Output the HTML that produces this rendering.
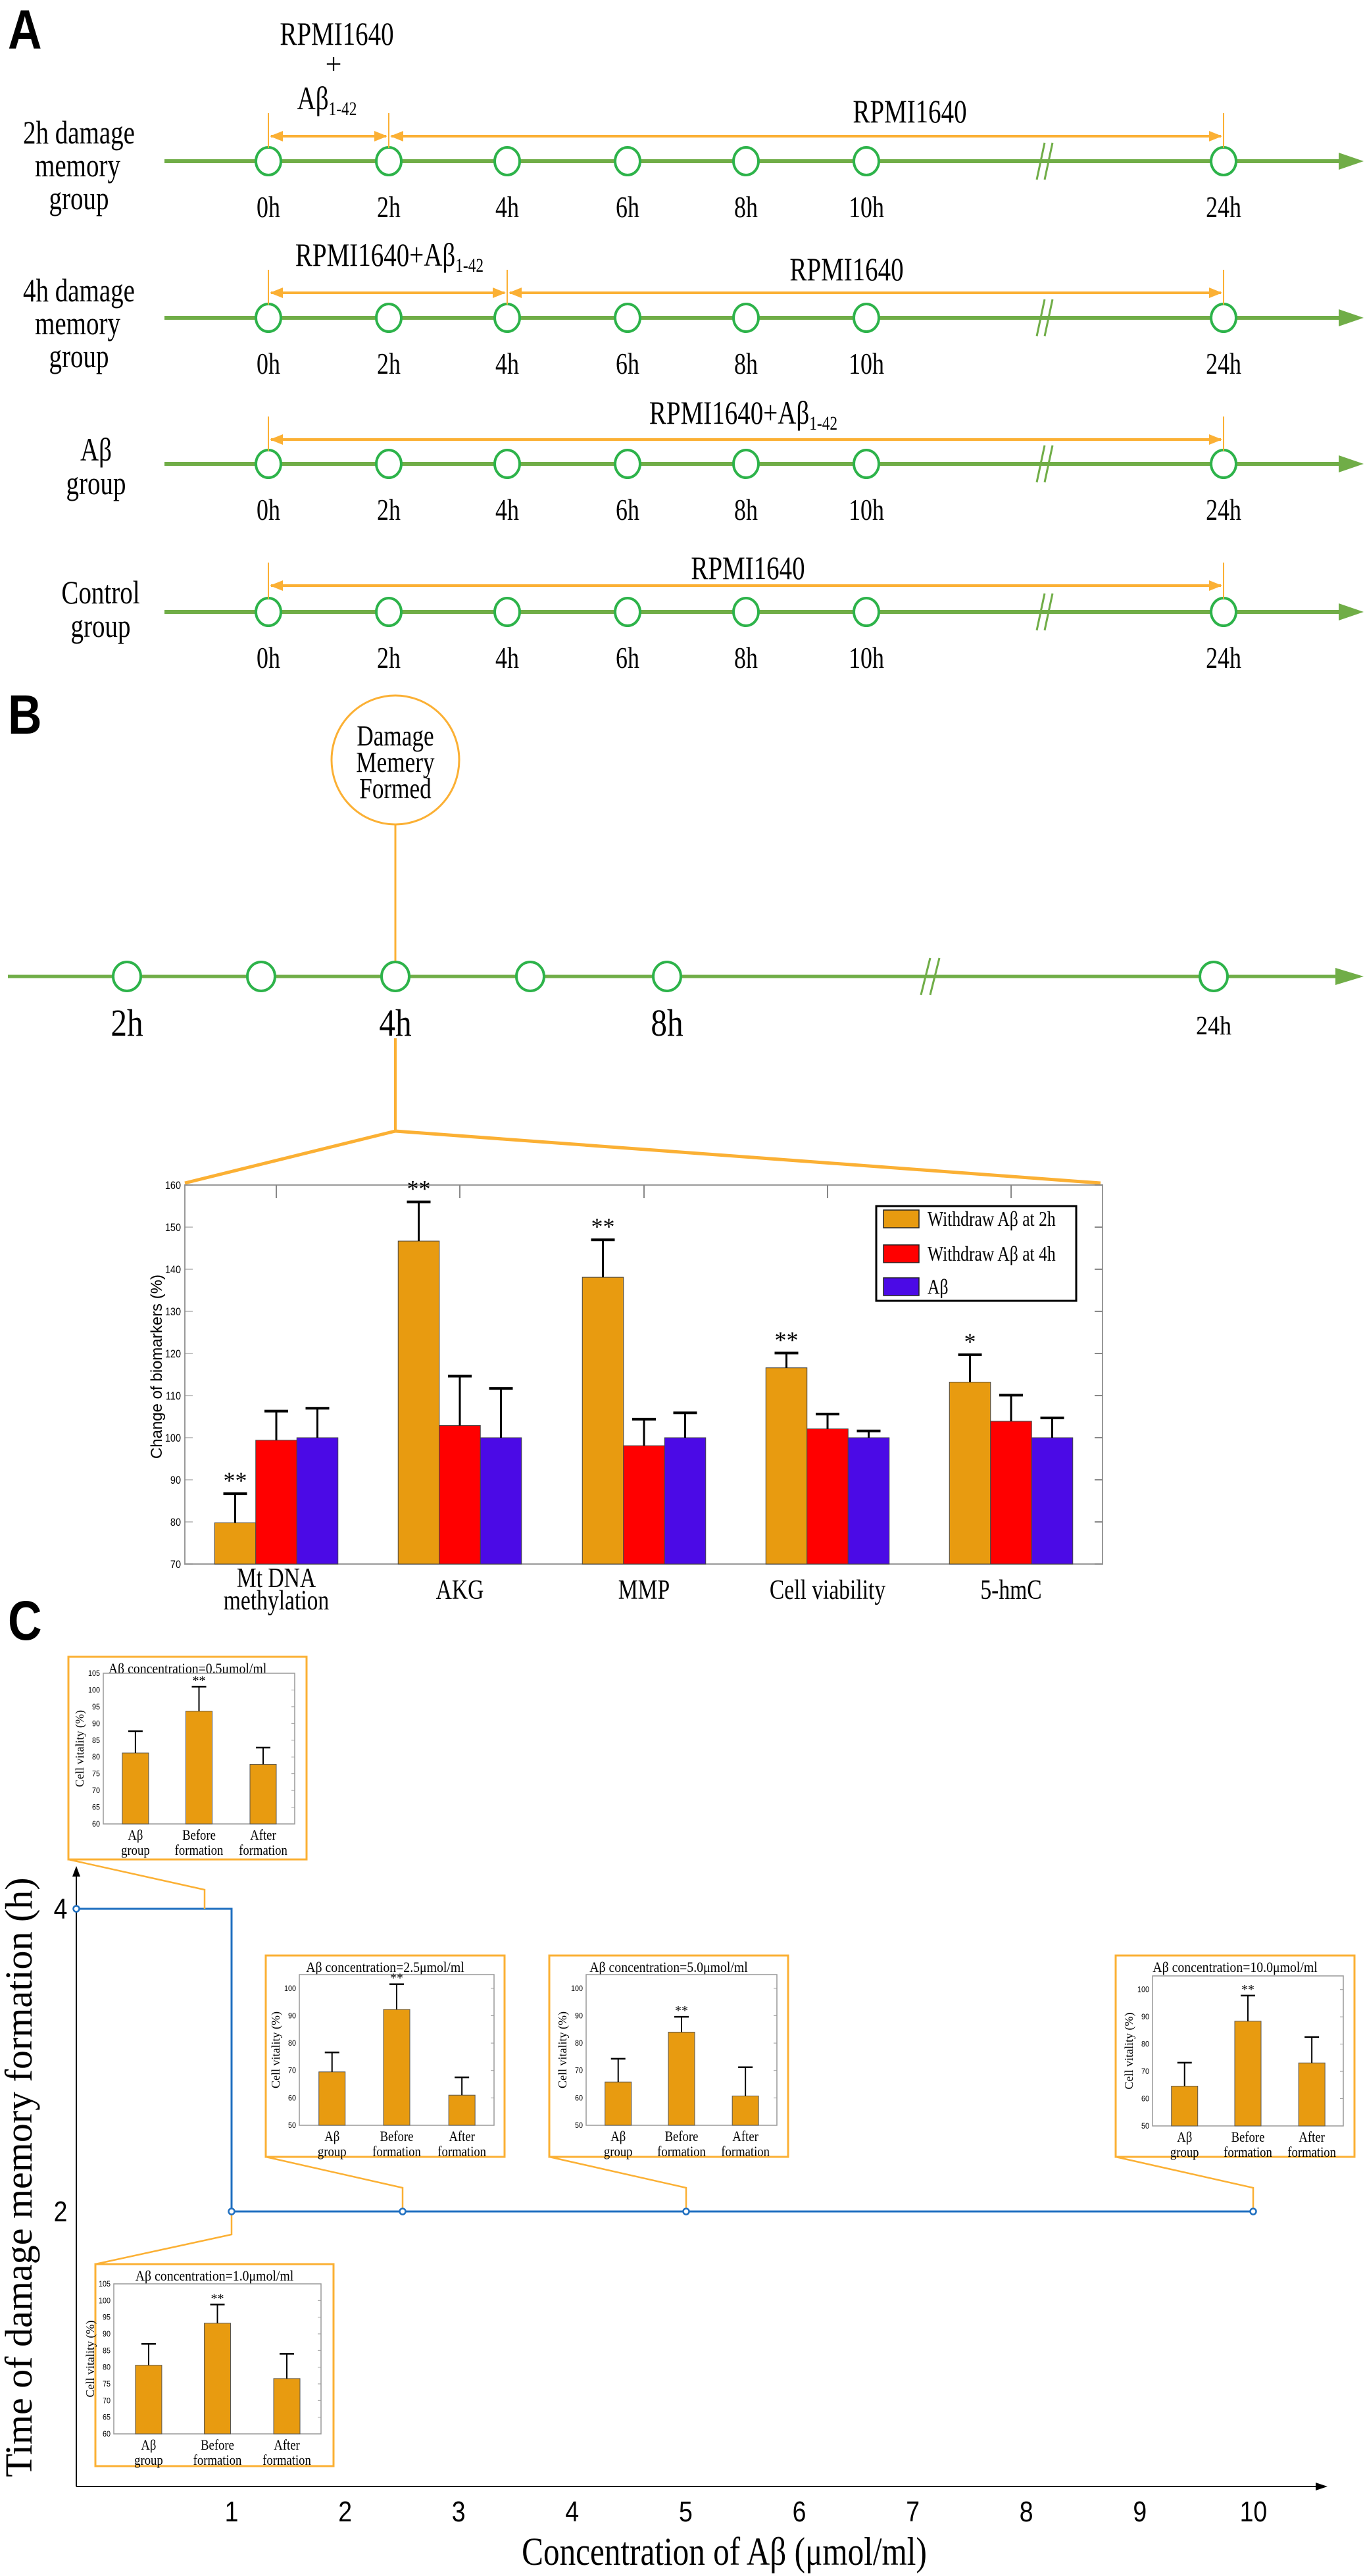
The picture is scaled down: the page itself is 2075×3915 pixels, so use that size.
<!DOCTYPE html>
<html><head><meta charset="utf-8"><style>
html,body{margin:0;padding:0;background:#fff;}
svg{display:block;}
</style></head><body>
<svg id="c" xmlns="http://www.w3.org/2000/svg" width="2075" height="3915" viewBox="0 0 2075 3915"></svg>
<script>
const S=[];
const SER="'Liberation Serif',serif", SAN="'Liberation Sans',sans-serif";
function T(x,y,txt,fs,anchor,fam,cx,extra){anchor=anchor||'middle';fam=fam||SER;cx=cx||1;extra=extra||'';
 S.push(`<text transform="translate(${x},${y}) scale(${cx},1)" font-size="${fs}" text-anchor="${anchor}" font-family="${fam}" fill="#000" ${extra}>${txt}</text>`);}
function L(x1,y1,x2,y2,c,w){S.push(`<line x1="${x1}" y1="${y1}" x2="${x2}" y2="${y2}" stroke="${c}" stroke-width="${w}"/>`);}
function R(x,y,w,h,f,st,sw){S.push(`<rect x="${x}" y="${y}" width="${w}" height="${h}" fill="${f}" stroke="${st||'none'}" stroke-width="${sw||0}"/>`);}
function P(pts,f){S.push(`<polygon points="${pts}" fill="${f}"/>`);}
const GL="#70ad47", GC="#2db34a", OR="#fbb034";
const AB='Aβ<tspan font-size="0.6em" dy="0.3em">1-42</tspan>';

// Panel A
T(12,74,'A',84,'start',SAN,0.85,'font-weight="bold"');
const xs=[408,591,771,954,1134,1317,1860], lab=['0h','2h','4h','6h','8h','10h','24h'];
const rows=[{y:245,a:207,seg:[[408,591],[591,1860]]},{y:483,a:445,seg:[[408,771],[771,1860]]},{y:705,a:668,seg:[[408,1860]]},{y:930,a:890,seg:[[408,1860]]}];
rows.forEach(r=>{
 L(250,r.y,2040,r.y,GL,6); P(`2035,${r.y-13} 2073,${r.y} 2035,${r.y+13}`,GL);
 L(1576,r.y+28,1588,r.y-28,GL,3); L(1588,r.y+28,1600,r.y-28,GL,3);
 xs.forEach((x,i)=>{S.push(`<ellipse cx="${x}" cy="${r.y}" rx="19" ry="21" fill="#fff" stroke="${GC}" stroke-width="4"/>`);T(x,r.y+85,lab[i],46,'middle',SER,0.78);});
 const bounds=new Set();
 r.seg.forEach(s=>{bounds.add(s[0]);bounds.add(s[1]);
   L(s[0]+4,r.a,s[1]-4,r.a,OR,4);
   P(`${s[0]+2},${r.a} ${s[0]+22},${r.a-8} ${s[0]+22},${r.a+8}`,OR);
   P(`${s[1]-2},${r.a} ${s[1]-22},${r.a-8} ${s[1]-22},${r.a+8}`,OR);});
 bounds.forEach(b=>L(b,r.a-35,b,r.y-20,OR,2));
});
T(512,68,'RPMI1640',50,'middle',SER,0.78);
T(507,112,'+',44,'middle',SER,1);
T(497,166,AB,50,'middle',SER,0.78);
T(1383,186,'RPMI1640',50,'middle',SER,0.78);
T(592,404,'RPMI1640+'+AB,50,'middle',SER,0.78);
T(1287,426,'RPMI1640',50,'middle',SER,0.78);
T(1130,644,'RPMI1640+'+AB,50,'middle',SER,0.78);
T(1137,880,'RPMI1640',50,'middle',SER,0.78);
T(120,218,'2h damage',50,'middle',SER,0.78);T(118,268,'memory',50,'middle',SER,0.78);T(120,318,'group',50,'middle',SER,0.78);
T(120,458,'4h damage',50,'middle',SER,0.78);T(118,508,'memory',50,'middle',SER,0.78);T(120,558,'group',50,'middle',SER,0.78);
T(146,700,'Aβ',50,'middle',SER,0.78);T(146,751,'group',50,'middle',SER,0.78);
T(153,917,'Control',50,'middle',SER,0.78);T(153,968,'group',50,'middle',SER,0.78);

// Panel B
T(12,1115,'B',84,'start',SAN,0.85,'font-weight="bold"');
S.push(`<ellipse cx="601" cy="1155" rx="97" ry="98" fill="#fff" stroke="${OR}" stroke-width="3"/>`);
T(601,1133,'Damage',44,'middle',SER,0.8);T(601,1173,'Memery',44,'middle',SER,0.8);T(601,1213,'Formed',44,'middle',SER,0.8);
L(601,1253,601,1462,OR,3);
L(12,1484,2035,1484,GL,5);P(`2030,${1484-13} 2073,1484 2030,${1484+13}`,GL);
L(1400,1512,1414,1456,GL,3);L(1414,1512,1428,1456,GL,3);
[193,397,601,806,1014,1845].forEach(x=>S.push(`<ellipse cx="${x}" cy="1484" rx="21" ry="22" fill="#fff" stroke="${GC}" stroke-width="4"/>`));
T(193,1574,'2h',58,'middle',SER,0.85);T(601,1574,'4h',58,'middle',SER,0.85);T(1014,1574,'8h',58,'middle',SER,0.85);T(1845,1572,'24h',40,'middle',SER,0.9);
L(601,1578,601,1719,OR,4);
S.push(`<polyline points="281,1798 601,1719 1673,1798" fill="none" stroke="${OR}" stroke-width="5"/>`);
// chart
const yv=v=>2377-(v-70)*6.4;
R(281,1801,1395,576,'#fff','#999',2);
for(let v=70;v<=160;v+=10){const y=yv(v);T(275,y+6,v,17,'end',SAN,0.85);L(1664,y,1676,y,'#888',2);L(281,y,293,y,'#888',1);}
const cen=[420,699,979,1258,1537];
cen.forEach(c=>{L(c,1801,c,1821,'#888',2);});
const cols=['#e89b10','#ff0000','#4b0ae6'];
const data=[[[79.8,86.7,'**'],[99.4,106.3],[100,107]],[[146.7,156,'**'],[102.9,114.6],[100,111.7]],[[138.1,147,'**'],[98.1,104.4],[100,105.9]],[[116.6,120.1,'**'],[102.1,105.6],[100,101.6]],[[113.2,119.7,'*'],[103.9,110.1],[100,104.7]]];
data.forEach((g,gi)=>g.forEach((b,bi)=>{const x=cen[gi]+(bi-1)*62.5;const y=yv(b[0]);
 R(x-31.25,y,62.5,2377-y,cols[bi],'#444',1);
 L(x,y,x,yv(b[1]),'#000',3);L(x-18,yv(b[1]),x+18,yv(b[1]),'#000',4);
 if(b[2])T(x,yv(b[1])-8,b[2],36,'middle',SER,1);}));
R(1332,1833,304,144,'#fff','#000',3);
[['Withdraw Aβ at 2h',1852,cols[0]],['Withdraw Aβ at 4h',1905,cols[1]],['Aβ',1955,cols[2]]].forEach(e=>{R(1343,e[1]-13,54,27,e[2],'#222',1.5);T(1410,e[1]+11,e[0],32,'start',SER,0.8);});
S.push(`<text transform="translate(246,2077) rotate(-90)" font-size="24" text-anchor="middle" font-family="${SAN}">Change of biomarkers (%)</text>`);
T(420,2412,'Mt DNA',42,'middle',SER,0.8);T(420,2446,'methylation',42,'middle',SER,0.8);
T(699,2430,'AKG',42,'middle',SER,0.8);T(979,2430,'MMP',42,'middle',SER,0.8);T(1258,2430,'Cell viability',42,'middle',SER,0.8);T(1537,2430,'5-hmC',42,'middle',SER,0.8);

// Panel C
T(12,2492,'C',84,'start',SAN,0.85,'font-weight="bold"');
L(116,3779,116,2850,'#000',2);P('110,2852 116,2836 122,2852','#000');
L(116,3779,2005,3779,'#000',2);P('2000,3773 2018,3779 2000,3785','#000');
const xc=c=>352+(c-1)*172.6;
for(let c=1;c<=10;c++)T(xc(c),3832,c,44,'middle',SAN,0.85);
T(92,2916,'4',44,'middle',SAN,0.85);T(92,3376,'2',44,'middle',SAN,0.85);
S.push(`<text transform="translate(1101,3898) scale(0.82,1)" font-size="60" text-anchor="middle" font-family="${SER}">Concentration of Aβ (μmol/ml)</text>`);
S.push(`<text transform="translate(48,3309) rotate(-90)" font-size="58" text-anchor="middle" font-family="${SER}">Time of damage memory formation (h)</text>`);
function inset(b,a,ymin,ymax,step,vals,title,conn){
 S.push(`<polyline points="${conn}" fill="none" stroke="${OR}" stroke-width="2.5"/>`);
 R(b[0],b[1],b[2]-b[0],b[3]-b[1],'#fff',OR,3);
 T((b[0]+b[2])/2,b[1]+25,title,22,'middle',SER,0.9);
 R(a[0],a[1],a[2]-a[0],a[3]-a[1],'#fff','#999',1.5);
 const yy=v=>a[3]-(v-ymin)*(a[3]-a[1])/(ymax-ymin);
 for(let v=ymin;v<=ymax;v+=step){T(a[0]-5,yy(v)+4,v,12,'end',SAN,0.9);L(a[2]-5,yy(v),a[2],yy(v),'#999',1);}
 const w=a[2]-a[0];const fr=[0.168,0.5,0.835];
 vals.forEach((v,i)=>{const x=a[0]+w*fr[i];const y=yy(v[0]);R(x-20,y,40,a[3]-y,'#e89b10','#555',1);
  L(x,y,x,yy(v[1]),'#000',2);L(x-11,yy(v[1]),x+11,yy(v[1]),'#000',2.5);
  if(i==1)T(x,yy(v[1])-3,'**',20,'middle',SER,1);});
 const lx=[['Aβ','group'],['Before','formation'],['After','formation']];
 lx.forEach((l,i)=>{const x=a[0]+w*fr[i];T(x,a[3]+24,l[0],22,'middle',SER,0.85);T(x,a[3]+47,l[1],22,'middle',SER,0.85);});
 S.push(`<text transform="translate(${a[0]-30},${(a[1]+a[3])/2}) rotate(-90)" font-size="18" text-anchor="middle" font-family="${SER}">Cell vitality (%)</text>`);
}
S.push(`<polyline points="116,2901 352,2901 352,3361 ${xc(10)},3361" fill="none" stroke="#1f6fc0" stroke-width="3"/>`);
inset([104,2518,466,2826],[157,2543,448,2772],60,105,5,[[81.2,87.7],[93.7,101],[77.8,82.8]],'Aβ concentration=0.5μmol/ml','104,2826 311,2872 311,2901');
inset([404,2972,767,3278],[455,3001,751,3230],50,105,10,[[69.5,76.6],[92.3,101.5],[61,67.5]],'Aβ concentration=2.5μmol/ml','404,3278 612,3325 612,3361');
inset([835,2972,1198,3278],[891,3001,1181,3230],50,105,10,[[65.8,74.3],[84,89.6],[60.7,71.2]],'Aβ concentration=5.0μmol/ml','835,3278 1043,3325 1043,3361');
inset([1696,2972,2059,3278],[1752,3003,2042,3231],50,105,10,[[64.6,73.2],[88.4,97.8],[73.1,82.6]],'Aβ concentration=10.0μmol/ml','1696,3278 1905,3325 1905,3361');
inset([145,3441,507,3748],[173,3471,488,3699],60,105,5,[[80.6,87],[93.2,98.8],[76.6,84]],'Aβ concentration=1.0μmol/ml','352,3361 352,3396 145,3441');
[[116,2901],[352,3361],[612,3361],[1043,3361],[1905,3361]].forEach(p=>S.push(`<circle cx="${p[0]}" cy="${p[1]}" r="4.5" fill="#fff" stroke="#1f6fc0" stroke-width="2.5"/>`));
document.getElementById('c').innerHTML=S.join('');
</script>
</body></html>
